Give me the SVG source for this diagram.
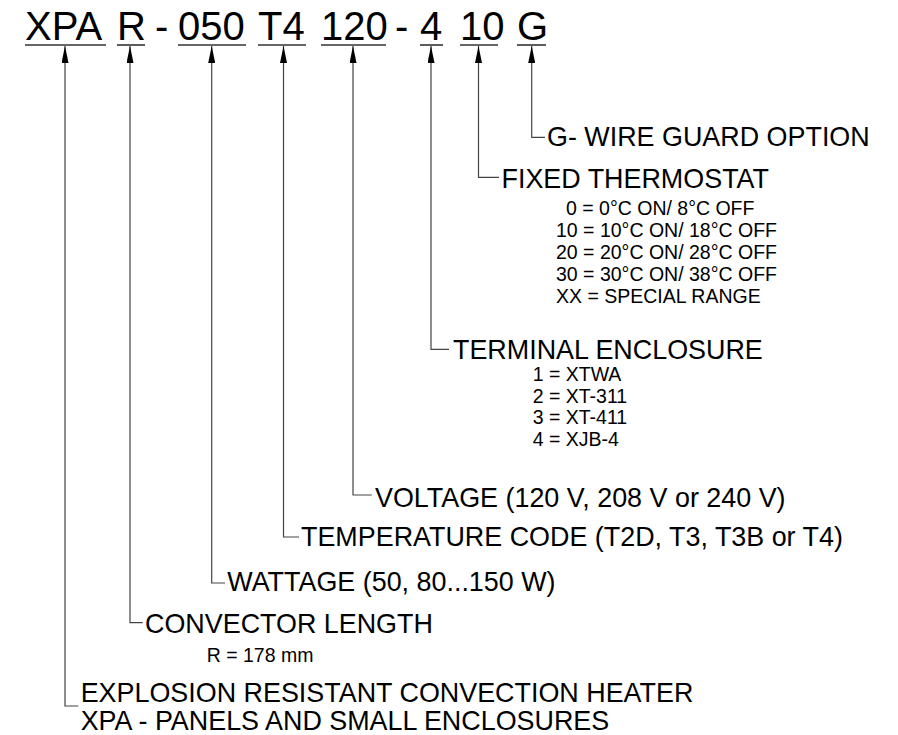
<svg xmlns="http://www.w3.org/2000/svg" width="898" height="735" viewBox="0 0 898 735">
<style>
text{font-family:"Liberation Sans",Arial,sans-serif;fill:#000}
.code{font-size:40px}
.lab{font-size:26.9px}
.sub{font-size:19.5px}
.ul{stroke:#333;stroke-width:1.6}
.c{fill:none;stroke:#444;stroke-width:1.2;marker-start:url(#ah)}
</style>
<defs>
<marker id="ah" viewBox="0 0 17 7" refX="17" refY="3.5" markerWidth="17" markerHeight="7" markerUnits="userSpaceOnUse" orient="auto-start-reverse">
<path d="M0,0 L17,3.5 L0,7 z" fill="#000"/>
</marker>
</defs>
<g id="code">
<text class="code" x="25" y="40">XPA</text>
<text class="code" x="117" y="40">R</text>
<text class="code" x="155" y="40">-</text>
<text class="code" x="178" y="40">050</text>
<text class="code" x="258" y="40">T4</text>
<text class="code" x="321" y="40">120</text>
<text class="code" x="395" y="40">-</text>
<text class="code" x="420" y="40">4</text>
<text class="code" x="460" y="40">10</text>
<text class="code" x="517" y="40">G</text>
<line class="ul" x1="25" y1="45" x2="106" y2="45"/>
<line class="ul" x1="117" y1="45" x2="145" y2="45"/>
<line class="ul" x1="178" y1="45" x2="246" y2="45"/>
<line class="ul" x1="258" y1="45" x2="306" y2="45"/>
<line class="ul" x1="321" y1="45" x2="386" y2="45"/>
<line class="ul" x1="420" y1="45" x2="443" y2="45"/>
<line class="ul" x1="460" y1="45" x2="498" y2="45"/>
<line class="ul" x1="517" y1="45" x2="546" y2="45"/>
</g>
<g id="connectors">
<path class="c" d="M531.7,46 V137.3 H545"/>
<path class="c" d="M478.5,46 V177.3 H499"/>
<path class="c" d="M431,46 V349.3 H449"/>
<path class="c" d="M353,46 V495 H371.7"/>
<path class="c" d="M283.5,46 V537 H299"/>
<path class="c" d="M211.7,46 V583 H225"/>
<path class="c" d="M130,46 V622.7 H142.7"/>
<path class="c" d="M65,46 V706 H78.3"/>
</g>
<g id="wire-guard">
<text class="lab" x="547" y="145.5">G- WIRE GUARD OPTION</text>
</g>
<g id="fixed-thermostat">
<text class="lab" x="501.5" y="188">FIXED THERMOSTAT</text>
<text class="sub" x="566" y="215">0 = 0°C ON/ 8°C OFF</text>
<text class="sub" x="556" y="236.7">10 = 10°C ON/ 18°C OFF</text>
<text class="sub" x="556" y="258.5">20 = 20°C ON/ 28°C OFF</text>
<text class="sub" x="556" y="281">30 = 30°C ON/ 38°C OFF</text>
<text class="sub" x="556" y="303">XX = SPECIAL RANGE</text>
</g>
<g id="terminal-enclosure">
<text class="lab" x="453" y="359">TERMINAL ENCLOSURE</text>
<text class="sub" x="532.7" y="381">1 = XTWA</text>
<text class="sub" x="532.7" y="402.5">2 = XT-311</text>
<text class="sub" x="532.7" y="424">3 = XT-411</text>
<text class="sub" x="532.7" y="446">4 = XJB-4</text>
</g>
<g id="voltage">
<text class="lab" x="375" y="506.7">VOLTAGE (120 V, 208 V or 240 V)</text>
</g>
<g id="temperature-code">
<text class="lab" x="301" y="546">TEMPERATURE CODE (T2D, T3, T3B or T4)</text>
</g>
<g id="wattage">
<text class="lab" x="227.3" y="590.7">WATTAGE (50, 80...150 W)</text>
</g>
<g id="convector-length">
<text class="lab" x="145" y="633">CONVECTOR LENGTH</text>
<text class="sub" x="206.7" y="661.7">R = 178 mm</text>
</g>
<g id="heater-type">
<text class="lab" x="80.7" y="701.7">EXPLOSION RESISTANT CONVECTION HEATER</text>
<text class="lab" x="80.7" y="730">XPA - PANELS AND SMALL ENCLOSURES</text>
</g>
</svg>
